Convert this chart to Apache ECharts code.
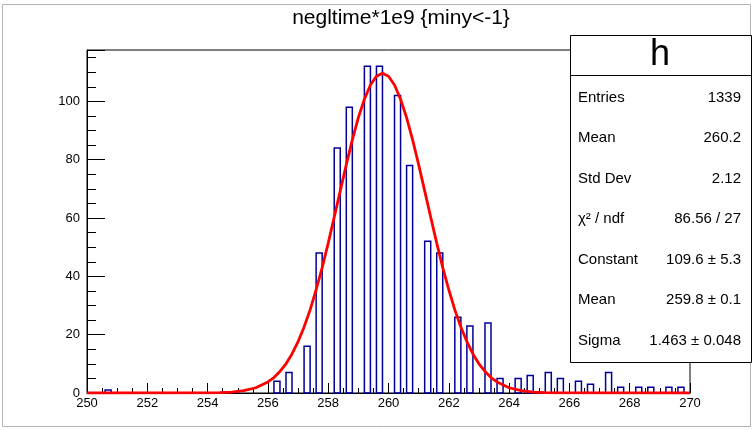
<!DOCTYPE html>
<html>
<head>
<meta charset="utf-8">
<script src="https://cdn.jsdelivr.net/npm/echarts@6/dist/echarts.min.js"></script>
<style>
html,body{margin:0;padding:0;background:#fff;}
#chart{width:753px;height:430px;}
</style>
</head>
<body>
<div id="chart"></div>
<script>
// ---- data ----
const titleText = 'negltime*1e9 {miny<-1}';
const binWidth = 0.2;
const binLow = [250.6, 256.2, 256.6, 257.2, 257.6, 258.2, 258.6, 259.2, 259.6, 260.2, 260.6,
                261.2, 261.6, 262.2, 262.6, 263.2, 263.6, 264.2, 264.6, 265.2, 265.6,
                266.2, 266.6, 267.2, 267.6, 268.2, 268.6, 269.2, 269.6];
const counts = [1, 4, 7, 16, 48, 84, 98, 112, 112, 102, 78,
                52, 48, 26, 23, 24, 5, 5, 6, 7, 5,
                4, 3, 7, 2, 2, 2, 2, 2];
const fitX = [250, 253.6, 254.0, 254.4, 254.8, 255.2, 255.6, 256.0, 256.2, 256.4, 256.6, 256.8,
              257.0, 257.2, 257.4, 257.6, 257.8, 258.0, 258.2, 258.4, 258.6, 258.8,
              259.0, 259.2, 259.4, 259.6, 259.8, 260.0, 260.2, 260.4, 260.6, 260.8,
              261.0, 261.2, 261.4, 261.6, 261.8, 262.0, 262.2, 262.4, 262.6, 262.8,
              263.0, 263.2, 263.4, 263.6, 264.0, 264.4, 264.8, 265.2, 265.6, 266.0, 270];
const fitY = [0, 0.01, 0.04, 0.12, 0.32, 0.78, 1.8, 3.8, 5.3, 7.4, 10.0, 13.4,
              17.6, 22.6, 28.5, 35.4, 43.0, 51.4, 60.3, 69.3, 78.3, 86.8,
              94.4, 100.7, 105.6, 108.6, 109.6, 108.6, 105.6, 100.7, 94.4, 86.8,
              78.3, 69.3, 60.3, 51.4, 43.0, 35.4, 28.5, 22.6, 17.6, 13.4,
              10.0, 7.4, 5.3, 3.8, 1.8, 0.78, 0.32, 0.12, 0.04, 0.01, 0];
const xTicks = {min: 250, max: 270, step: 2};
const yTicks = {min: 0, max: 117.6, step: 20};
const statLabels = ['Entries', 'Mean', 'Std Dev', 'χ² / ndf', 'Constant', 'Mean', 'Sigma'];
const statValues = ['1339', '260.2', '2.12', '86.56 / 27', '109.6 ± 5.3', '259.8 ± 0.1', '1.463 ± 0.048'];
const statName = 'h';

// ---- chart ----
const FONT = '"Liberation Sans", Arial, Helvetica, sans-serif';
const chart = echarts.init(document.getElementById('chart'), null, {renderer: 'canvas'});

const histData = binLow.map((x, i) => [x, counts[i]]);
const fitData = fitX.map((x, i) => [x, fitY[i]]);

const statGraphics = [];
const boxL = 570, boxR = 752, boxT = 35, boxB = 362, headB = 75;
statGraphics.push({type: 'rect', shape: {x: boxL + 0.5, y: boxT + 0.5, width: boxR - boxL - 1, height: boxB - boxT},
  style: {fill: '#fff', stroke: '#000', lineWidth: 1}, z: 100});
statGraphics.push({type: 'line', shape: {x1: boxL, y1: headB + 0.5, x2: boxR, y2: headB + 0.5},
  style: {stroke: '#000', lineWidth: 1}, z: 101});
statGraphics.push({type: 'text', x: 660, y: 55, z: 101,
  style: {text: statName, font: '36px ' + FONT, fill: '#000', align: 'center', verticalAlign: 'middle'}});
statLabels.forEach((lab, i) => {
  const y = 97.5 + i * 40.5;
  statGraphics.push({type: 'text', x: 578, y: y, z: 101,
    style: {text: lab, font: '15px ' + FONT, fill: '#000', align: 'left', verticalAlign: 'middle'}});
  statGraphics.push({type: 'text', x: 741, y: y, z: 101,
    style: {text: statValues[i], font: '15px ' + FONT, fill: '#000', align: 'right', verticalAlign: 'middle'}});
});

const option = {
  animation: false,
  backgroundColor: '#fff',
  grid: {left: 87, right: 63, top: 50, bottom: 37, show: true, borderColor: '#000', borderWidth: 1, backgroundColor: 'transparent'},
  xAxis: [{
    type: 'value', min: xTicks.min, max: xTicks.max, interval: xTicks.step,
    axisLine: {show: true, lineStyle: {color: '#000', width: 1}},
    axisTick: {show: true, inside: true, length: 10, lineStyle: {color: '#000'}},
    minorTick: {show: true, splitNumber: 4, length: 5, lineStyle: {color: '#000'}},
    axisLabel: {color: '#000', fontSize: 13, fontFamily: FONT, margin: 4, showMinLabel: true, showMaxLabel: true, hideOverlap: false},
    splitLine: {show: false}
  }],
  yAxis: [{
    type: 'value', min: yTicks.min, max: yTicks.max, interval: yTicks.step,
    axisLine: {show: true, lineStyle: {color: '#000', width: 1}},
    axisTick: {show: true, inside: true, length: 18, lineStyle: {color: '#000'}},
    axisLabel: {color: '#000', fontSize: 13, fontFamily: FONT, margin: 7, showMinLabel: true, hideOverlap: false,
      formatter: v => (Math.abs(v % yTicks.step) < 1e-9 ? String(v) : '')},
    splitLine: {show: false}
  }, {
    type: 'value', position: 'left', offset: 0, min: yTicks.min, max: yTicks.max, interval: yTicks.step / 4,
    axisLine: {show: false},
    axisTick: {show: true, inside: true, length: 9, lineStyle: {color: '#000'}},
    axisLabel: {show: false},
    splitLine: {show: false}
  }],
  title: {text: titleText, left: 396, top: 3, textAlign: 'center',
    textStyle: {fontSize: 21, fontWeight: 'normal', color: '#000', fontFamily: FONT}},
  series: [{
    type: 'custom',
    xAxisIndex: 0, yAxisIndex: 0,
    data: histData,
    renderItem: function (params, api) {
      const x0 = api.value(0), c = api.value(1);
      const p0 = api.coord([x0, c]);
      const p1 = api.coord([x0 + binWidth, 0]);
      return {
        type: 'rect',
        shape: {x: p0[0], y: p0[1], width: p1[0] - p0[0], height: p1[1] - p0[1]},
        style: {fill: 'none', stroke: '#000099', lineWidth: 1.5}
      };
    },
    z: 2
  }, {
    type: 'line',
    xAxisIndex: 0, yAxisIndex: 0,
    data: fitData,
    showSymbol: false, symbol: 'none', smooth: false,
    lineStyle: {color: '#ff0000', width: 2.8},
    z: 3
  }],
  graphic: [{type: 'rect', shape: {x: 2.5, y: 4.5, width: 748, height: 422}, style: {fill: 'none', stroke: '#b4b4b4', lineWidth: 1}, z: 0, silent: true}].concat(statGraphics)
};
chart.setOption(option);
</script>
</body>
</html>
